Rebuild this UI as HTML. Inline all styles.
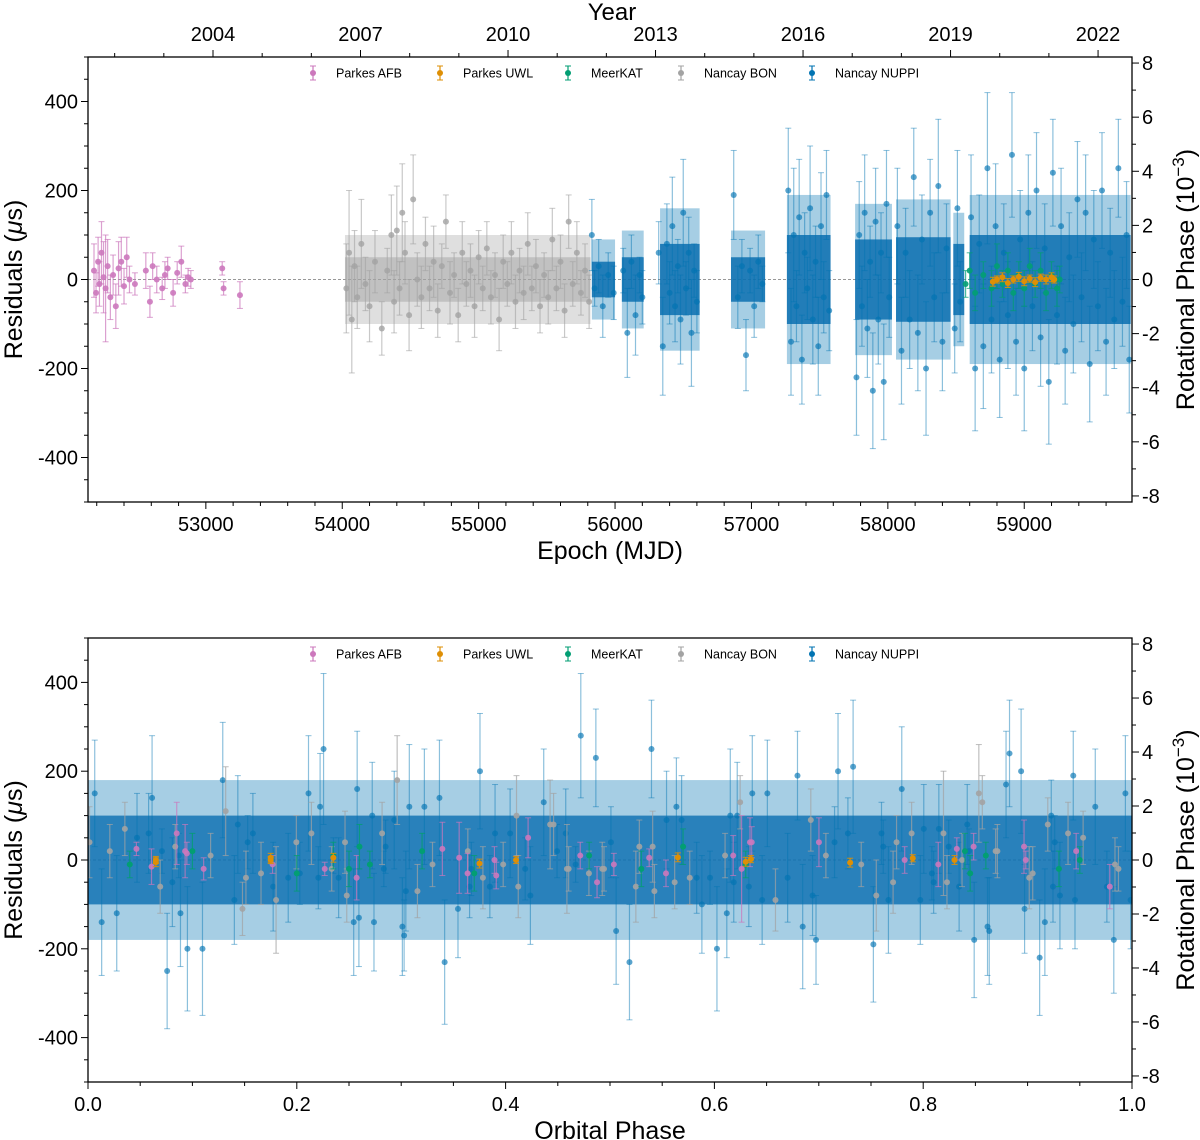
<!DOCTYPE html>
<html><head><meta charset="utf-8">
<style>
html,body{margin:0;padding:0;background:#fff;}
svg{display:block;font-family:"Liberation Sans",sans-serif;}
</style></head>
<body>
<svg id="fig" width="1200" height="1140" viewBox="0 0 1200 1140" xmlns="http://www.w3.org/2000/svg"></svg>
<script>
// ---------- data ----------
const afbPoints = [[52180,20,60],[52195,-30,45],[52210,40,55],[52220,-10,50],[52235,60,70],[52250,5,80],[52265,-20,120],[52280,30,60],[52300,-40,50],[52320,10,45],[52340,-60,50],[52360,25,60],[52380,40,55],[52400,-15,40],[52420,50,45],[52440,0,30],[52480,-10,25],[52560,20,40],[52590,-50,35],[52610,30,30],[52640,0,30],[52680,-20,25],[52700,10,30],[52720,25,25],[52760,-30,30],[52790,15,25],[52820,40,35],[52850,-10,20],[52870,5,20],[52890,0,20],[53120,25,15],[53130,-20,15],[53250,-35,30]];
const uwlPoints = [[58770,-5,10],[58800,0,8],[58840,5,10],[58880,-8,10],[58920,0,8],[58960,6,10],[59000,-4,10],[59040,2,8],[59080,-6,10],[59120,4,8],[59160,0,10],[59200,5,10],[59220,0,8]];
const uwlPhase = [0.065,0.175,0.235,0.375,0.41,0.565,0.63,0.635,0.73,0.79,0.83,0.175,0.065];
const meerkatPoints = [[58570,-10,30],[58600,20,40],[58640,-30,40],[58700,10,30],[58760,-20,40],[58800,30,50],[58840,-10,30],[58880,20,40],[58920,-30,40],[58960,10,30],[59000,-20,40],[59040,30,40],[59080,-10,30],[59120,20,40],[59160,-30,40],[59200,10,30],[59240,-20,40],[59260,0,30]];
const meerkatPhase = [0.04,0.1,0.2,0.235,0.25,0.26,0.27,0.32,0.37,0.48,0.53,0.57,0.63,0.84,0.845,0.86,0.93,0.95];
const bonPoints = [[54030,-20,100],[54050,60,140],[54070,-90,120],[54090,30,80],[54110,-40,70],[54140,80,100],[54170,-10,60],[54200,-60,80],[54240,40,70],[54290,-110,60],[54330,20,50],[54360,100,90],[54380,-50,70],[54400,110,100],[54420,-20,60],[54440,150,110],[54460,60,70],[54490,-80,80],[54520,180,100],[54550,0,60],[54580,-40,70],[54610,80,60],[54640,-20,50],[54670,40,80],[54700,-70,60],[54730,30,50],[54760,130,60],[54790,-30,70],[54820,10,50],[54850,-80,60],[54880,60,70],[54910,-10,50],[54940,20,60],[54970,-60,70],[55000,50,60],[55030,-20,50],[55060,70,60],[55090,-40,60],[55120,10,50],[55150,-90,70],[55180,40,60],[55210,-10,50],[55240,60,70],[55270,-50,60],[55300,20,50],[55330,-30,60],[55360,80,70],[55390,-20,50],[55420,30,60],[55450,-60,60],[55480,10,50],[55510,-40,60],[55540,90,70],[55570,-20,50],[55600,40,60],[55630,-70,60],[55660,130,60],[55690,-10,50],[55720,60,70],[55750,-30,50],[55780,20,60],[55810,-50,60]];
const nuppiPoints = [[55830,100,80],[55850,-20,40],[55880,30,60],[55910,-60,70],[55950,10,50],[55990,-30,60],[56060,20,50],[56090,-120,100],[56120,40,60],[56150,-80,90],[56180,10,40],[56200,-40,60],[56320,60,70],[56350,-150,110],[56380,80,90],[56400,-30,70],[56420,120,110],[56440,-60,80],[56460,30,60],[56480,-90,100],[56500,150,120],[56520,-20,60],[56540,60,80],[56560,-120,120],[56580,20,60],[56600,-50,70],[56870,190,100],[56900,-40,70],[56930,30,60],[56960,-170,80],[56990,20,50],[57020,-60,70],[57050,40,60],[57080,-10,40],[57270,200,140],[57290,-140,120],[57310,100,150],[57330,-60,80],[57350,140,130],[57370,-180,100],[57390,60,90],[57410,-20,70],[57430,160,140],[57450,-90,100],[57470,40,80],[57490,-150,110],[57510,120,120],[57530,-40,80],[57550,190,100],[57570,-70,90],[57770,-220,130],[57790,100,120],[57810,-60,90],[57830,150,130],[57850,-110,110],[57870,40,80],[57890,-250,130],[57910,130,120],[57930,-90,100],[57950,60,90],[57970,-230,130],[57990,170,120],[58010,-40,90],[58070,120,130],[58100,-160,120],[58130,60,100],[58160,-90,110],[58190,230,110],[58220,-120,130],[58250,90,100],[58280,-200,150],[58310,150,120],[58340,-40,100],[58370,210,150],[58400,-140,110],[58430,70,100],[58490,-110,100],[58510,160,130],[58530,-50,90],[58610,140,140],[58640,-200,140],[58670,80,110],[58700,-150,140],[58730,250,170],[58760,-90,120],[58790,120,140],[58820,-180,130],[58850,60,110],[58880,-80,120],[58910,280,140],[58940,-140,120],[58970,90,110],[59000,-200,140],[59030,150,130],[59060,-60,100],[59090,200,130],[59120,-130,110],[59150,70,100],[59180,-230,140],[59210,240,120],[59240,-80,110],[59270,120,130],[59300,-160,120],[59330,50,100],[59360,-100,110],[59390,180,130],[59420,-40,100],[59450,150,130],[59480,-190,130],[59510,90,110],[59540,-60,100],[59570,200,130],[59600,-140,120],[59630,60,100],[59660,-90,110],[59690,250,110],[59720,-50,100],[59750,100,120],[59770,-180,120]];
// dense observing seasons (MJD start, end) and residual envelope (µs)
const seasonStart = [55830,56050,56330,56850,57260,57760,58060,58480,58600];
const seasonEnd   = [56000,56210,56620,57100,57580,58030,58460,58560,59780];
const seasonCore  = [40,50,80,50,100,90,95,80,100];
const seasonEnv   = [90,110,160,110,190,170,180,150,190];
const bonBandStart = 54020, bonBandEnd = 55820, bonBandCore = 50, bonBandEnv = 100;
const orbitalPeriodDays = 1.61803;
const phaseCoreSpread = 100, phaseEnvSpread = 180;
// tick labels
const mjdTicks = [53000,54000,55000,56000,57000,58000,59000];
const yearTicks = [2004,2007,2010,2013,2016,2019,2022];
const resTicks = [-400,-200,0,200,400];
const rotTicks = [-8,-6,-4,-2,0,2,4,6,8];
const phaseTicks = [0,0.2,0.4,0.6,0.8,1.0];
const legendLabels = ["Parkes AFB","Parkes UWL","MeerKAT","Nancay BON","Nancay NUPPI"];
const legendColors = ["#cc78bc","#de8f05","#029e73","#a3a3a3","#0173b2"];

// ---------- helpers ----------
const NS="http://www.w3.org/2000/svg";
const fig=document.getElementById('fig');
function el(tag,attrs,parent,text){const e=document.createElementNS(NS,tag);for(const k in attrs)e.setAttribute(k,attrs[k]);if(text!==undefined)e.textContent=text;(parent||fig).appendChild(e);return e;}
const L=88,R=1132;
const mjdMin=52136, mjdMax=59790;
const xM=m=>L+(m-mjdMin)/(mjdMax-mjdMin)*(R-L);
const xP=p=>L+p*(R-L);
function yMap(T,B){return v=>T+(500-v)/1000*(B-T);}
const usPerRot=60.8;

function drawErr(g,x,y,v,e,color,op){
  const ln=el('line',{x1:x,x2:x,y1:y(v+e),y2:y(v-e),stroke:color,'stroke-width':1.2,'stroke-opacity':op},g);
  
  el('line',{x1:x-3,x2:x+3,y1:y(v+e),y2:y(v+e),stroke:color,'stroke-width':1,'stroke-opacity':op},g);
  el('line',{x1:x-3,x2:x+3,y1:y(v-e),y2:y(v-e),stroke:color,'stroke-width':1,'stroke-opacity':op},g);
  const c=el('circle',{cx:x,cy:y(v),r:3,fill:color,'fill-opacity':Math.min(1,op+0.2)},g);
  
}

function panel(T,B,xKind){
  const y=yMap(T,B);
  const g=el('g',{},fig);
  
  
  const clipId='clip'+T;
  const cp=el('clipPath',{id:clipId},g);el('rect',{x:L,y:T,width:R-L,height:B-T},cp);
  const d=el('g',{'clip-path':`url(#${clipId})`},g);
  // zero line
  el('line',{x1:L,x2:R,y1:y(0),y2:y(0),stroke:'#777','stroke-width':0.8,'stroke-dasharray':'3,2'},d);
  if(xKind==='mjd'){
    const gb=el('rect',{x:xM(bonBandStart),width:xM(bonBandEnd)-xM(bonBandStart),y:y(bonBandEnv),height:y(-bonBandEnv)-y(bonBandEnv),fill:'#a3a3a3','fill-opacity':0.35},d);
    
    el('rect',{x:xM(bonBandStart),width:xM(bonBandEnd)-xM(bonBandStart),y:y(bonBandCore),height:y(-bonBandCore)-y(bonBandCore),fill:'#a3a3a3','fill-opacity':0.5},d);
    seasonStart.forEach((s,i)=>{
      const r=el('rect',{x:xM(s),width:xM(seasonEnd[i])-xM(s),y:y(seasonEnv[i]),height:y(-seasonEnv[i])-y(seasonEnv[i]),fill:'#0173b2','fill-opacity':0.35},d);
      
      el('rect',{x:xM(s),width:xM(seasonEnd[i])-xM(s),y:y(seasonCore[i]),height:y(-seasonCore[i])-y(seasonCore[i]),fill:'#0a6eb0','fill-opacity':0.85},d);
    });
    nuppiPoints.forEach(p=>drawErr(d,xM(p[0]),y,p[1],p[2],'#0173b2',0.45));
    bonPoints.forEach(p=>drawErr(d,xM(p[0]),y,p[1],p[2],'#a3a3a3',0.6));
    afbPoints.forEach(p=>drawErr(d,xM(p[0]),y,p[1],p[2],'#cc78bc',0.7));
    meerkatPoints.forEach(p=>drawErr(d,xM(p[0]),y,p[1],p[2],'#029e73',0.7));
    uwlPoints.forEach(p=>drawErr(d,xM(p[0]),y,p[1],p[2],'#de8f05',0.9));
  } else {
    const ph=m=>{const f=m/orbitalPeriodDays;return f-Math.floor(f);};
    const env=el('rect',{x:L,width:R-L,y:y(phaseEnvSpread),height:y(-phaseEnvSpread)-y(phaseEnvSpread),fill:'#0173b2','fill-opacity':0.35},d);
    
    el('rect',{x:L,width:R-L,y:y(phaseCoreSpread),height:y(-phaseCoreSpread)-y(phaseCoreSpread),fill:'#0a6eb0','fill-opacity':0.8},d);
    nuppiPoints.forEach(p=>drawErr(d,xP(ph(p[0])),y,p[1],p[2],'#0173b2',0.45));
    bonPoints.forEach(p=>drawErr(d,xP(ph(p[0])),y,p[1],p[2],'#a3a3a3',0.7));
    afbPoints.forEach(p=>drawErr(d,xP(ph(p[0])),y,p[1],p[2],'#cc78bc',0.7));
    meerkatPoints.forEach((p,i)=>drawErr(d,xP(meerkatPhase[i]),y,p[1],p[2],'#029e73',0.8));
    uwlPoints.forEach((p,i)=>drawErr(d,xP(uwlPhase[i]),y,p[1],p[2],'#de8f05',0.9));
  }
  // frame
  const fr=el('rect',{x:L,y:T,width:R-L,height:B-T,fill:'none',stroke:'#000','stroke-width':1.3},g);
  
  // left y ticks
  for(let v=-500;v<=500;v+=50){const yy=y(v);const major=resTicks.includes(v);
    el('line',{x1:L,x2:L-(major?7:4),y1:yy,y2:yy,stroke:'#000','stroke-width':1},g);}
  resTicks.forEach(v=>{const t=el('text',{x:L-10,y:y(v)+7,'text-anchor':'end','font-size':20},g,String(v));
    });
  // right rotational phase ticks
  for(let p=-8;p<=8;p++){const yy=y(p*usPerRot);const major=rotTicks.includes(p);
    el('line',{x1:R,x2:R+(major?7:4),y1:yy,y2:yy,stroke:'#000','stroke-width':1},g);}
  rotTicks.forEach(p=>{const t=el('text',{x:R+10,y:y(p*usPerRot)+7,'font-size':20},g,String(p));
    });
  // x ticks
  if(xKind==='mjd'){
    for(let m=52200;m<=mjdMax;m+=200){const xx=xM(m);const major=m%1000===0;
      el('line',{x1:xx,x2:xx,y1:B,y2:B+(major?7:4),stroke:'#000','stroke-width':1},g);}
    mjdTicks.forEach(m=>{const t=el('text',{x:xM(m),y:B+29,'text-anchor':'middle','font-size':20},g,String(m));
      });
    // year axis
    const xY=yr=>213+(yr-2004)*49.17;
    for(let yr=2002;yr<=2022;yr++){const xx=xY(yr);const major=yearTicks.includes(yr);
      el('line',{x1:xx,x2:xx,y1:T,y2:T-(major?7:4),stroke:'#000','stroke-width':1},g);}
    yearTicks.forEach(yr=>{const t=el('text',{x:xY(yr),y:T-16,'text-anchor':'middle','font-size':20},g,String(yr));
      });
  } else {
    for(let i=0;i<=20;i++){const p=i*0.05;const xx=xP(p);const major=i%4===0;
      el('line',{x1:xx,x2:xx,y1:B,y2:B+(major?7:4),stroke:'#000','stroke-width':1},g);}
    phaseTicks.forEach(p=>{const t=el('text',{x:xP(p),y:B+29,'text-anchor':'middle','font-size':20},g,p.toFixed(1));
      });
  }
  // legend
  const lg=el('g',{},g);
  const lx=[313,440,568,681,812];
  legendLabels.forEach((lab,i)=>{
    const gi=el('g',{},lg);
    const ly=T+16;
    el('line',{x1:lx[i],x2:lx[i],y1:ly-7,y2:ly+7,stroke:legendColors[i],'stroke-width':1.2},gi);
    el('line',{x1:lx[i]-3,x2:lx[i]+3,y1:ly-7,y2:ly-7,stroke:legendColors[i]},gi);
    el('line',{x1:lx[i]-3,x2:lx[i]+3,y1:ly+7,y2:ly+7,stroke:legendColors[i]},gi);
    el('circle',{cx:lx[i],cy:ly,r:3,fill:legendColors[i]},gi);
    el('text',{x:lx[i]+23,y:ly+4.5,'font-size':12.5},gi,lab);
  });
  // axis titles
  const yt=el('text',{transform:`translate(22,${(T+B)/2}) rotate(-90)`,'text-anchor':'middle','font-size':25},g);
  
  el('tspan',{},yt,'Residuals (');el('tspan',{'font-style':'italic'},yt,'μ');el('tspan',{},yt,'s)');
  const rt=el('text',{transform:`translate(1194,${(T+B)/2}) rotate(-90)`,'text-anchor':'middle','font-size':25},g);
  
  el('tspan',{},rt,'Rotational Phase (10');el('tspan',{dy:-10,'font-size':17},rt,'−3');el('tspan',{dy:10},rt,')');
  const xt=el('text',{x:(L+R)/2,y:B+57,'text-anchor':'middle','font-size':25},g,xKind==='mjd'?'Epoch (MJD)':'Orbital Phase');
  
  if(xKind==='mjd'){const t=el('text',{x:612,y:20,'text-anchor':'middle','font-size':24},g,'Year');
    }
}
panel(57,502,'mjd');
panel(638,1082,'phase');
</script>
</body></html>
